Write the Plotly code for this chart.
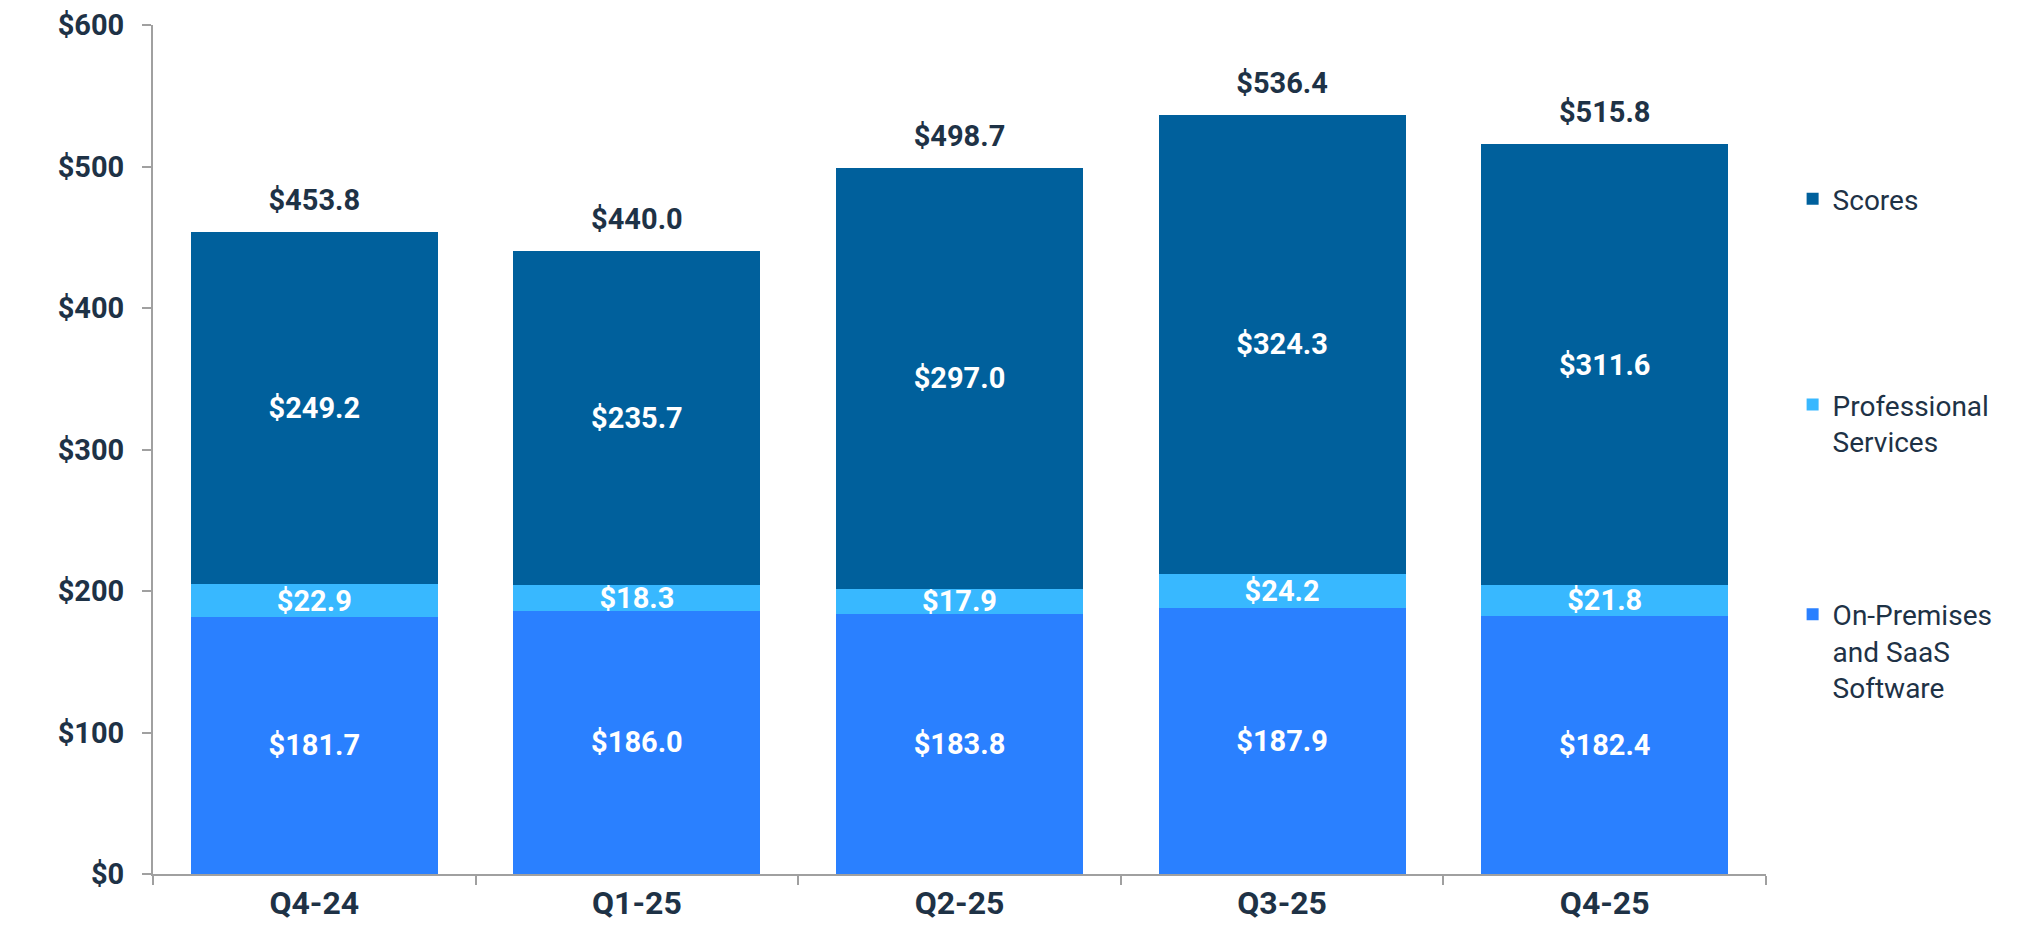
import plotly.graph_objects as go

categories = ["Q4-24", "Q1-25", "Q2-25", "Q3-25", "Q4-25"]
on_prem_saas = [181.7, 186.0, 183.8, 187.9, 182.4]
professional_services = [22.9, 18.3, 17.9, 24.2, 21.8]
scores = [249.2, 235.7, 297.0, 324.3, 311.6]
totals = [round(a + b + c, 1) for a, b, c in zip(on_prem_saas, professional_services, scores)]
y_tickvals = [0, 100, 200, 300, 400, 500, 600]
y_ticktext = ["$0", "$100", "$200", "$300", "$400", "$500", "$600"]

C_SCORES = "#00609C"
C_PROF = "#38B8FF"
C_ONPREM = "#2A80FF"
DARK = "#1E3246"
AXIS = "#A0A0A0"
FONT = "Roboto"

label_font = dict(family=FONT, size=29, color="white", weight="bold")

fig = go.Figure()

def add_bar(vals, name, color, legend):
    fig.add_trace(go.Bar(
        x=categories, y=vals, name=name,
        marker=dict(color=color, line=dict(width=0)),
        texttemplate="$%{y:.1f}", textposition="inside",
        insidetextanchor="middle", textangle=0, constraintext="none",
        textfont=label_font, legend=legend,
    ))

add_bar(on_prem_saas, "On-Premises<br>and SaaS<br>Software", C_ONPREM, "legend3")
add_bar(professional_services, "Professional<br>Services", C_PROF, "legend2")
add_bar(scores, "Scores", C_SCORES, "legend")

fig.add_trace(go.Scatter(
    x=categories, y=totals, mode="markers+text",
    marker=dict(size=22, opacity=0),
    text=["$%.1f" % t for t in totals], textposition="top center",
    textfont=dict(family=FONT, size=29, color=DARK, weight="bold"),
    showlegend=False, hoverinfo="skip", cliponaxis=False,
))

leg_common = dict(
    x=1.0165, xanchor="left", yanchor="top", valign="top",
    font=dict(family=FONT, size=28, color=DARK),
    bgcolor="rgba(0,0,0,0)", borderwidth=0,
)

fig.update_layout(
    width=2016, height=916,
    barmode="stack", bargap=0.234,
    plot_bgcolor="white", paper_bgcolor="white",
    margin=dict(l=145, r=258, t=17, b=50, autoexpand=False),
    font=dict(family=FONT, color=DARK),
    legend=dict(y=0.8245, **leg_common),
    legend2=dict(y=0.582, **leg_common),
    legend3=dict(y=0.335, **leg_common),
    xaxis=dict(
        automargin=False,
        showline=True, linecolor=AXIS, linewidth=2,
        ticks="outside", tickson="boundaries", ticklen=9, tickwidth=2, tickcolor=AXIS,
        tickfont=dict(family=FONT, size=32, color=DARK, weight="bold"),
        showgrid=False, zeroline=False,
    ),
    yaxis=dict(
        automargin=False,
        range=[0, 600], tickvals=y_tickvals, ticktext=y_ticktext,
        showline=True, linecolor=AXIS, linewidth=2,
        ticks="outside", ticklen=9, tickwidth=2, tickcolor=AXIS,
        ticklabelstandoff=12,
        tickfont=dict(family=FONT, size=29, color=DARK, weight="bold"),
        showgrid=False, zeroline=False,
    ),
)

fig.write_html("out.html")
